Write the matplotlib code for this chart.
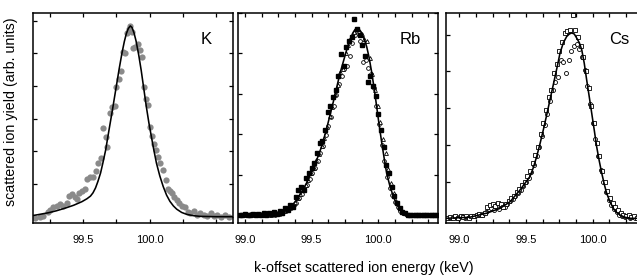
import numpy as np
import matplotlib
matplotlib.use("Agg")
import matplotlib.pyplot as plt
from matplotlib.ticker import FixedLocator, FuncFormatter

plt.rcParams['font.family'] = ['Liberation Sans', 'DejaVu Sans']

# ---------------------------------------------------------------
# data: (energy keV, yield arb. units), one y-tick = one unit
# ---------------------------------------------------------------
# K : grey points + fit
k_pts = [(99.142, -0.05), (99.175, 0.00), (99.200, 0.02), (99.234, 0.15), (99.251, 0.22),
         (99.277, 0.29), (99.302, 0.33), (99.327, 0.39), (99.353, 0.33), (99.378, 0.43),
         (99.396, 0.63), (99.416, 0.68), (99.437, 0.61), (99.457, 0.53), (99.472, 0.73),
         (99.492, 0.80), (99.513, 0.84), (99.530, 1.14), (99.551, 1.22), (99.574, 1.20),
         (99.594, 1.41), (99.614, 1.63), (99.632, 1.79), (99.650, 2.70), (99.670, 2.45),
         (99.683, 2.14), (99.701, 3.16), (99.721, 3.35), (99.739, 3.39), (99.751, 3.96),
         (99.767, 4.20), (99.782, 4.47), (99.797, 5.05), (99.812, 5.02), (99.827, 5.63),
         (99.843, 5.76), (99.853, 5.84), (99.868, 5.66), (99.878, 5.15), (99.893, 5.20),
         (99.909, 5.29), (99.924, 5.10), (99.942, 4.90), (99.954, 3.98), (99.975, 3.59),
         (99.990, 3.42), (100.005, 2.76), (100.020, 2.47), (100.033, 2.22), (100.051, 2.04),
         (100.066, 1.84), (100.081, 1.63), (100.102, 1.43), (100.122, 1.12), (100.137, 0.84),
         (100.152, 0.78), (100.168, 0.71), (100.183, 0.61), (100.203, 0.51), (100.223, 0.41),
         (100.244, 0.33), (100.266, 0.29), (100.284, 0.14), (100.305, 0.10), (100.330, 0.16),
         (100.355, 0.05), (100.381, 0.10), (100.406, 0.05), (100.431, 0.02), (100.457, 0.10),
         (100.482, 0.02), (100.508, 0.06), (100.533, 0.00), (100.563, 0.04), (100.596, 0.00)]
k_fit = [(99.10, 0.02), (99.16, 0.06), (99.24, 0.12), (99.30, 0.18), (99.365, 0.26),
         (99.43, 0.35), (99.492, 0.46), (99.530, 0.55), (99.556, 0.63), (99.575, 0.73),
         (99.594, 0.88), (99.612, 1.08), (99.632, 1.34), (99.650, 1.66), (99.670, 2.04),
         (99.695, 2.65), (99.721, 3.27), (99.747, 3.92), (99.772, 4.54), (99.792, 5.00),
         (99.810, 5.36), (99.825, 5.60), (99.840, 5.76), (99.855, 5.84), (99.868, 5.79),
         (99.883, 5.62), (99.898, 5.38), (99.918, 4.95), (99.937, 4.47), (99.956, 3.92),
         (99.975, 3.37), (99.994, 2.88), (100.013, 2.45), (100.032, 2.03), (100.051, 1.64),
         (100.076, 1.25), (100.102, 0.92), (100.127, 0.66), (100.152, 0.47), (100.178, 0.33),
         (100.203, 0.23), (100.240, 0.13), (100.279, 0.07), (100.330, 0.03), (100.381, 0.01),
         (100.50, 0.00), (100.635, 0.00)]

# Rb : three runs (filled squares, open circles, open triangles) + fit
rb_sq = [(98.96, 0.02), (98.98, 0.00), (99.00, 0.03), (99.02, 0.01), (99.04, 0.00),
         (99.06, 0.04), (99.08, 0.02), (99.10, 0.03), (99.12, 0.00), (99.14, 0.05),
         (99.16, 0.02), (99.18, 0.06), (99.20, 0.03), (99.22, 0.08), (99.24, 0.04),
         (99.26, 0.12), (99.28, 0.07), (99.30, 0.18), (99.32, 0.14), (99.34, 0.26),
         (99.36, 0.22), (99.38, 0.45), (99.40, 0.62), (99.42, 0.70), (99.44, 0.64),
         (99.46, 0.92), (99.48, 1.05), (99.50, 1.18), (99.52, 1.30), (99.54, 1.55),
         (99.56, 1.78), (99.58, 1.85), (99.60, 2.10), (99.62, 2.55), (99.64, 2.70),
         (99.66, 2.92), (99.68, 3.10), (99.70, 3.45), (99.72, 3.98), (99.74, 3.70),
         (99.76, 4.15), (99.78, 4.30), (99.80, 4.40), (99.82, 4.85), (99.84, 4.60),
         (99.86, 4.45), (99.88, 4.20), (99.90, 3.95), (99.92, 3.30), (99.94, 3.45),
         (99.96, 3.20), (99.98, 2.95), (100.00, 2.50), (100.02, 2.10), (100.04, 1.70),
         (100.06, 1.25), (100.08, 1.05), (100.10, 0.70), (100.12, 0.48), (100.14, 0.30),
         (100.16, 0.18), (100.18, 0.08), (100.20, 0.05), (100.22, 0.02), (100.24, 0.00),
         (100.26, 0.02), (100.28, 0.00), (100.30, 0.01), (100.32, 0.00), (100.34, 0.02),
         (100.36, 0.00), (100.38, 0.01), (100.40, 0.00), (100.42, 0.02), (100.44, 0.00)]
rb_ci = [(98.965, 0.00), (98.985, 0.02), (99.005, 0.00), (99.025, 0.01), (99.045, 0.03),
         (99.065, 0.00), (99.085, 0.02), (99.105, 0.01), (99.125, 0.03), (99.145, 0.00),
         (99.165, 0.04), (99.185, 0.01), (99.205, 0.05), (99.225, 0.02), (99.245, 0.06),
         (99.265, 0.04), (99.285, 0.09), (99.305, 0.10), (99.325, 0.15), (99.345, 0.18),
         (99.365, 0.26), (99.385, 0.32), (99.405, 0.42), (99.425, 0.52), (99.445, 0.62),
         (99.465, 0.76), (99.485, 0.90), (99.505, 1.04), (99.525, 1.18), (99.545, 1.35),
         (99.565, 1.55), (99.585, 1.72), (99.605, 1.98), (99.625, 2.20), (99.645, 2.42),
         (99.665, 2.70), (99.685, 2.98), (99.705, 3.25), (99.725, 3.45), (99.745, 3.62),
         (99.765, 3.70), (99.785, 3.95), (99.805, 4.25), (99.825, 4.45), (99.845, 4.50),
         (99.865, 4.30), (99.885, 3.80), (99.905, 3.85), (99.925, 3.65), (99.945, 3.50),
         (99.965, 3.15), (99.985, 2.70), (100.005, 2.25), (100.025, 1.75), (100.045, 1.35),
         (100.065, 0.95), (100.085, 0.68), (100.105, 0.50), (100.125, 0.34), (100.145, 0.22),
         (100.165, 0.12), (100.185, 0.06), (100.205, 0.03), (100.225, 0.01), (100.245, 0.00),
         (100.265, 0.01), (100.285, 0.00), (100.305, 0.00), (100.325, 0.01), (100.345, 0.00),
         (100.365, 0.00), (100.385, 0.01), (100.405, 0.00), (100.425, 0.00), (100.445, 0.01)]
rb_tr = [(98.975, 0.01), (98.995, 0.00), (99.015, 0.02), (99.035, 0.00), (99.055, 0.01),
         (99.075, 0.03), (99.095, 0.00), (99.115, 0.02), (99.135, 0.01), (99.155, 0.00),
         (99.175, 0.03), (99.195, 0.02), (99.215, 0.05), (99.235, 0.03), (99.255, 0.07),
         (99.275, 0.08), (99.295, 0.12), (99.315, 0.14), (99.335, 0.20), (99.355, 0.25),
         (99.375, 0.33), (99.395, 0.42), (99.415, 0.52), (99.435, 0.63), (99.455, 0.76),
         (99.475, 0.88), (99.495, 1.05), (99.515, 1.18), (99.535, 1.36), (99.555, 1.52),
         (99.575, 1.72), (99.595, 1.92), (99.615, 2.18), (99.635, 2.45), (99.655, 2.68),
         (99.675, 3.00), (99.695, 3.22), (99.715, 3.55), (99.735, 3.62), (99.755, 4.02),
         (99.775, 4.22), (99.795, 4.40), (99.815, 4.52), (99.835, 4.60), (99.855, 4.55),
         (99.875, 4.48), (99.895, 4.35), (99.915, 4.30), (99.935, 3.90), (99.955, 3.50),
         (99.975, 3.10), (99.995, 2.70), (100.015, 2.30), (100.035, 1.90), (100.055, 1.55),
         (100.075, 1.15), (100.095, 0.80), (100.115, 0.55), (100.135, 0.35), (100.155, 0.22),
         (100.175, 0.12), (100.195, 0.06), (100.215, 0.03), (100.235, 0.01), (100.255, 0.00),
         (100.275, 0.01), (100.295, 0.00), (100.315, 0.00), (100.335, 0.01), (100.355, 0.00),
         (100.375, 0.00), (100.395, 0.01), (100.415, 0.00), (100.435, 0.00)]
rb_fit = [(98.943, 0.00), (99.138, 0.00), (99.20, 0.02), (99.263, 0.05), (99.338, 0.20),
          (99.388, 0.38), (99.425, 0.58), (99.463, 0.81), (99.50, 1.08), (99.538, 1.37),
          (99.575, 1.70), (99.613, 2.15), (99.663, 2.81), (99.713, 3.51), (99.763, 4.09),
          (99.790, 4.35), (99.808, 4.50), (99.825, 4.59), (99.838, 4.62), (99.855, 4.60),
          (99.870, 4.54), (99.890, 4.40), (99.913, 4.17), (99.930, 3.92), (99.950, 3.55),
          (99.970, 3.12), (99.988, 2.69), (100.006, 2.25), (100.025, 1.82), (100.044, 1.42),
          (100.063, 1.04), (100.088, 0.72), (100.113, 0.47), (100.138, 0.28), (100.163, 0.15),
          (100.188, 0.07), (100.213, 0.02), (100.288, 0.00), (100.45, 0.00)]

# Cs : two runs (open squares, open circles) + fit
cs_sq = [(98.91, 0.02), (98.93, 0.04), (98.95, 0.01), (98.97, 0.05), (98.99, 0.02),
         (99.01, 0.06), (99.03, 0.03), (99.05, 0.05), (99.07, 0.02), (99.09, 0.07),
         (99.11, 0.05), (99.13, 0.09), (99.15, 0.12), (99.17, 0.10), (99.19, 0.14),
         (99.21, 0.30), (99.23, 0.36), (99.25, 0.40), (99.27, 0.33), (99.29, 0.42),
         (99.31, 0.38), (99.33, 0.30), (99.35, 0.40), (99.37, 0.48), (99.39, 0.55),
         (99.41, 0.62), (99.43, 0.72), (99.45, 0.80), (99.47, 0.92), (99.49, 1.00),
         (99.51, 1.15), (99.53, 1.30), (99.55, 1.50), (99.57, 1.72), (99.59, 1.95),
         (99.61, 2.30), (99.63, 2.60), (99.65, 2.95), (99.67, 3.30), (99.69, 3.50),
         (99.71, 3.95), (99.73, 4.20), (99.75, 4.55), (99.77, 4.80), (99.79, 5.05),
         (99.81, 5.10), (99.83, 5.12), (99.85, 5.55), (99.87, 5.12), (99.89, 4.95),
         (99.91, 4.70), (99.93, 4.40), (99.95, 4.00), (99.97, 3.55), (99.99, 3.05),
         (100.01, 2.60), (100.03, 2.05), (100.05, 1.70), (100.07, 1.30), (100.09, 1.00),
         (100.11, 0.75), (100.13, 0.55), (100.15, 0.42), (100.17, 0.30), (100.19, 0.22),
         (100.21, 0.15), (100.23, 0.10), (100.25, 0.06), (100.27, 0.08), (100.29, 0.03),
         (100.31, 0.05), (100.33, 0.02), (100.35, 0.04), (100.37, 0.01), (100.39, 0.03)]
cs_ci = [(98.92, 0.00), (98.94, 0.02), (98.96, 0.04), (98.98, 0.01), (99.00, 0.03),
         (99.02, 0.05), (99.04, 0.02), (99.06, 0.04), (99.08, 0.03), (99.10, 0.06),
         (99.12, 0.05), (99.14, 0.08), (99.16, 0.10), (99.18, 0.12), (99.20, 0.16),
         (99.22, 0.25), (99.24, 0.28), (99.26, 0.22), (99.28, 0.32), (99.30, 0.26),
         (99.32, 0.34), (99.34, 0.30), (99.36, 0.40), (99.38, 0.46), (99.40, 0.52),
         (99.42, 0.60), (99.44, 0.68), (99.46, 0.78), (99.48, 0.88), (99.50, 0.98),
         (99.52, 1.10), (99.54, 1.25), (99.56, 1.45), (99.58, 1.70), (99.60, 1.95),
         (99.62, 2.25), (99.64, 2.55), (99.66, 2.85), (99.68, 3.20), (99.70, 3.50),
         (99.72, 3.70), (99.74, 3.85), (99.76, 4.30), (99.78, 4.25), (99.80, 3.95),
         (99.82, 4.30), (99.84, 4.55), (99.86, 4.68), (99.88, 4.75), (99.90, 4.60),
         (99.92, 4.40), (99.94, 4.05), (99.96, 3.60), (99.98, 3.10), (100.00, 2.60),
         (100.02, 2.15), (100.04, 1.70), (100.06, 1.32), (100.08, 1.00), (100.10, 0.72),
         (100.12, 0.50), (100.14, 0.36), (100.16, 0.24), (100.18, 0.16), (100.20, 0.10),
         (100.22, 0.06), (100.24, 0.03), (100.26, 0.05), (100.28, 0.02), (100.30, 0.04),
         (100.32, 0.01), (100.34, 0.03), (100.36, 0.00), (100.38, 0.02)]
cs_fit = [(98.905, 0.00), (99.08, 0.03), (99.205, 0.14), (99.305, 0.27), (99.38, 0.45),
          (99.455, 0.77), (99.53, 1.14), (99.555, 1.38), (99.58, 1.68), (99.605, 2.03),
          (99.63, 2.41), (99.655, 2.81), (99.68, 3.23), (99.70, 3.56), (99.718, 3.86),
          (99.737, 4.18), (99.755, 4.50), (99.78, 4.78), (99.805, 4.95), (99.825, 5.02),
          (99.843, 5.05), (99.862, 5.02), (99.88, 4.91), (99.90, 4.78), (99.918, 4.59),
          (99.937, 4.22), (99.955, 3.77), (99.974, 3.32), (99.993, 2.86), (100.012, 2.40),
          (100.03, 1.95), (100.049, 1.57), (100.068, 1.23), (100.087, 0.93), (100.105, 0.68),
          (100.13, 0.45), (100.155, 0.27), (100.18, 0.16), (100.205, 0.09), (100.24, 0.03),
          (100.28, 0.00), (100.40, 0.00)]

panel_names = ['K', 'Rb', 'Cs']


def xy(pts):
    a = np.array(pts)
    return a[:, 0], a[:, 1]


# ---------------------------------------------------------------
# figure (axes placed in pixels of a 637x276 canvas)
# ---------------------------------------------------------------
W, H = 637, 276
fig = plt.figure(figsize=(W / 100, H / 100), dpi=100)


def px_axes(x0, x1, y0, y1):
    return fig.add_axes([x0 / W, 1 - y1 / H, (x1 - x0) / W, (y1 - y0) / H])


ax1 = px_axes(33, 232.7, 12.7, 222.7)
ax2 = px_axes(237.8, 437.7, 12.7, 222.7)
ax3 = px_axes(446, 646, 12.7, 222.7)
axes = [ax1, ax2, ax3]

line_kw = dict(color='black', lw=1.15, zorder=3)
open_kw = dict(ls='none', mfc='white', mec='black', mew=0.6, zorder=2)

# K
ax1.plot(*xy(k_pts), 'o', ls='none', ms=4.5, color='#8a8a8a', mec='none', zorder=2)
ax1.plot(*xy(k_fit), **line_kw)

# Rb
ax2.plot(*xy(rb_ci), 'o', ms=2.7, **open_kw)
ax2.plot(*xy(rb_tr), '^', ms=2.8, **open_kw)
ax2.plot(*xy(rb_sq), 's', ls='none', ms=2.5, color='black', zorder=2)
ax2.plot(*xy(rb_fit), **line_kw)

# Cs
ax3.plot(*xy(cs_ci), 'o', ms=2.9, **open_kw)
ax3.plot(*xy(cs_sq), 's', ms=2.7, **open_kw)
ax3.plot(*xy(cs_fit), **line_kw)

# axis ranges
ax1.set_xlim(99.125, 100.623)
ax1.set_ylim(-0.184, 6.244)
ax2.set_xlim(98.946, 100.446)
ax2.set_ylim(-0.178, 5.007)
ax3.set_xlim(98.90, 100.40)
ax3.set_ylim(-0.12, 5.60)

ax1.xaxis.set_major_locator(FixedLocator([99.25, 99.5, 99.75, 100.0, 100.25, 100.5]))
ax1.yaxis.set_major_locator(FixedLocator(range(7)))
labelled1 = [99.5, 100.0]
ax1.xaxis.set_major_formatter(FuncFormatter(
    lambda v, p: f'{v:.1f}' if any(abs(v - t) < 1e-6 for t in labelled1) else ''))

for ax in (ax2, ax3):
    ax.xaxis.set_major_locator(FixedLocator(np.arange(98.875, 100.5, 0.125)))
    ax.xaxis.set_major_formatter(FuncFormatter(
        lambda v, p: f'{v:.1f}' if abs(v * 2 - round(v * 2)) < 1e-6 else ''))
    ax.yaxis.set_major_locator(FixedLocator(range(6)))

for ax, name in zip(axes, panel_names):
    ax.tick_params(direction='in', top=True, right=True, length=2.6, width=0.9,
                   labelsize=8, pad=9, labelleft=False)
    for s in ax.spines.values():
        s.set_linewidth(1.1)
    ax.text(0.865, 0.87, name, transform=ax.transAxes, ha='center', va='center',
            fontsize=12)

fig.text(11 / W, 1 - 112 / H, 'scattered ion yield (arb. units)', rotation=90,
         ha='center', va='center', fontsize=10.3)
fig.text(364 / W, 1 - 268 / H, 'k-offset scattered ion energy (keV)',
         ha='center', va='center', fontsize=10.3)

fig.savefig('out.png', dpi=100)
